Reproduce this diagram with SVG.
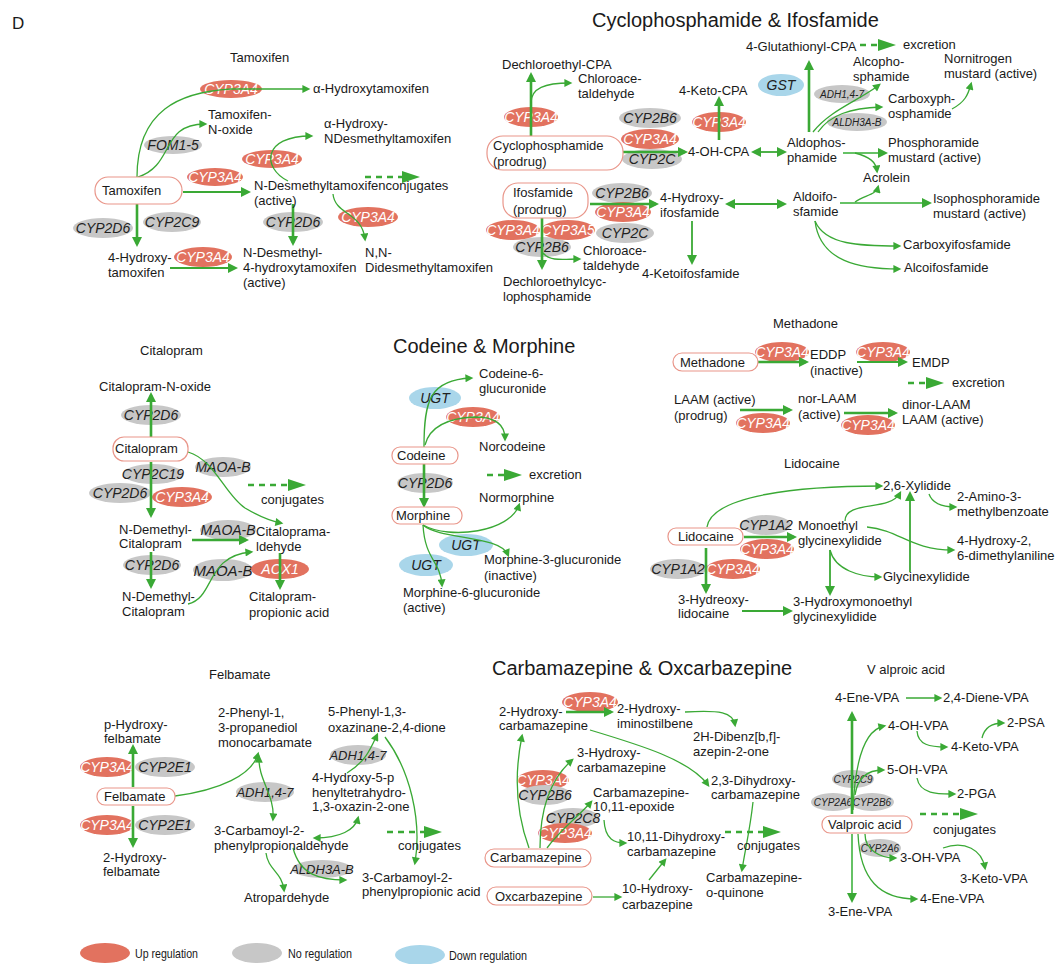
<svg xmlns="http://www.w3.org/2000/svg" width="1058" height="964" viewBox="0 0 1058 964">
<defs>
<style>
text{font-family:"Liberation Sans",Arial,sans-serif;font-size:13px;fill:#1a1a1a}
.ttl{font-size:20px}
.up{fill:#e2725f}
.no{fill:#c7c7c7}
.dn{fill:#a9d6ea}
.eu{font-style:italic;font-size:14px;fill:#ffffff;text-anchor:middle}
.en{font-style:italic;font-size:14px;fill:#222;text-anchor:middle}
.sm{font-size:10px}
.lg{font-size:13px}
.box{fill:#fff;stroke:#e9968a;stroke-width:1.2}
.c path{fill:none;stroke:#3aa935;stroke-width:1.3}
.c .k{stroke-width:2.6}
.c .m{stroke-width:1.8}
.c .l{stroke:#66c266;stroke-width:2}
.c .d{stroke-width:2.6;stroke-dasharray:6 5}
.c path{marker-end:url(#a)}
.c .k,.c .m,.c .l{marker-end:url(#A)}
.c .d{marker-end:url(#B)}
.c .b{marker-start:url(#a)}
.c .bm{marker-start:url(#A)}
</style>
<marker id="a" viewBox="0 0 10 10" refX="7" refY="5" markerWidth="9" markerHeight="8" markerUnits="userSpaceOnUse" orient="auto-start-reverse"><path d="M0,0 L10,5 L0,10 z" fill="#3aa935"/></marker>
<marker id="A" viewBox="0 0 10 10" refX="7" refY="5" markerWidth="11" markerHeight="10" markerUnits="userSpaceOnUse" orient="auto-start-reverse"><path d="M0,0 L10,5 L0,10 z" fill="#3aa935"/></marker>
<marker id="B" viewBox="0 0 18 12" refX="2" refY="6" markerWidth="18" markerHeight="12" markerUnits="userSpaceOnUse" orient="auto"><path d="M0,0 L18,6 L0,12 z" fill="#3aa935"/></marker>
</defs>
<rect width="1058" height="964" fill="#fff"/>
<text x="12" y="29" style="font-size:17px">D</text>

<!-- ================= ENZYMES ================= -->
<g id="enzymes">
<!-- Tamoxifen -->
<g id="tam-e1"><ellipse class="up" cx="231" cy="89" rx="31" ry="9"/><text class="eu" x="231" y="94">CYP3A4</text></g>
<g id="tam-e2"><ellipse class="no" cx="173" cy="145" rx="29" ry="9"/><text class="en" x="173" y="150">FOM1-5</text></g>
<g id="tam-e3"><ellipse class="up" cx="272" cy="159" rx="30" ry="9"/><text class="eu" x="272" y="164">CYP3A4</text></g>
<g id="tam-e4"><ellipse class="up" cx="215" cy="177" rx="28" ry="9"/><text class="eu" x="215" y="182">CYP3A4</text></g>
<g id="tam-e5"><ellipse class="no" cx="293" cy="222" rx="30" ry="10"/><text class="en" x="293" y="227">CYP2D6</text></g>
<g id="tam-e6"><ellipse class="up" cx="368" cy="217" rx="30" ry="10"/><text class="eu" x="368" y="222">CYP3A4</text></g>
<g id="tam-e7"><ellipse class="no" cx="103" cy="228" rx="30" ry="10"/><text class="en" x="103" y="233">CYP2D6</text></g>
<g id="tam-e8"><ellipse class="no" cx="172" cy="222" rx="29" ry="10"/><text class="en" x="172" y="227">CYP2C9</text></g>
<g id="tam-e9"><ellipse class="up" cx="203" cy="257" rx="29" ry="10"/><text class="eu" x="203" y="262">CYP3A4</text></g>
<!-- Cyclophosphamide -->
<g id="cpa-e1"><ellipse class="up" cx="531" cy="117" rx="27" ry="10"/><text class="eu" x="531" y="122">CYP3A4</text></g>
<g id="cpa-e2"><ellipse class="no" cx="650" cy="118" rx="31" ry="10"/><text class="en" x="650" y="123">CYP2B6</text></g>
<g id="cpa-e4"><ellipse class="no" cx="652" cy="159" rx="30" ry="10"/><text class="en" x="652" y="164">CYP2C</text></g>
<g id="cpa-e3"><ellipse class="up" cx="650" cy="139" rx="29" ry="10"/><text class="eu" x="650" y="144">CYP3A4</text></g>
<g id="cpa-e5"><ellipse class="up" cx="719" cy="122" rx="27" ry="10"/><text class="eu" x="719" y="127">CYP3A4</text></g>
<g id="cpa-e6"><ellipse class="dn" cx="781" cy="85" rx="23" ry="11"/><text class="en" x="781" y="90">GST</text></g>
<g id="cpa-e7"><ellipse class="no" cx="842" cy="94" rx="28" ry="9"/><text class="en sm" x="842" y="98">ADH1,4-7</text></g>
<g id="cpa-e8"><ellipse class="no" cx="857" cy="122" rx="30" ry="9"/><text class="en sm" x="857" y="126">ALDH3A-B</text></g>
<g id="cpa-e9"><ellipse class="no" cx="622" cy="193" rx="30" ry="10"/><text class="en" x="622" y="198">CYP2B6</text></g>
<g id="cpa-e11"><ellipse class="no" cx="625" cy="233" rx="29" ry="10"/><text class="en" x="625" y="238">CYP2C</text></g>
<g id="cpa-e10"><ellipse class="up" cx="623" cy="212" rx="28" ry="10"/><text class="eu" x="623" y="217">CYP3A4</text></g>
<g id="cpa-e14"><ellipse class="no" cx="542" cy="247" rx="29" ry="10"/><text class="en" x="542" y="252">CYP2B6</text></g>
<g id="cpa-e12"><ellipse class="up" cx="513" cy="230" rx="27" ry="10"/><text class="eu" x="513" y="235">CYP3A4</text></g>
<g id="cpa-e13"><ellipse class="up" cx="568" cy="230" rx="27" ry="10"/><text class="eu" x="568" y="235">CYP3A5</text></g>
<!-- Citalopram -->
<g id="cit-e1"><ellipse class="no" cx="151" cy="415" rx="30" ry="10"/><text class="en" x="151" y="420">CYP2D6</text></g>
<g id="cit-e2"><ellipse class="no" cx="153" cy="474" rx="30" ry="10"/><text class="en" x="153" y="479">CYP2C19</text></g>
<g id="cit-e3"><ellipse class="no" cx="120" cy="493" rx="31" ry="10"/><text class="en" x="120" y="498">CYP2D6</text></g>
<g id="cit-e4"><ellipse class="up" cx="182" cy="497" rx="30" ry="10"/><text class="eu" x="182" y="502">CYP3A4</text></g>
<g id="cit-e5"><ellipse class="no" cx="223" cy="467" rx="28" ry="10"/><text class="en" x="223" y="472">MAOA-B</text></g>
<g id="cit-e6"><ellipse class="no" cx="228" cy="530" rx="28" ry="10"/><text class="en" x="228" y="535">MAOA-B</text></g>
<g id="cit-e7"><ellipse class="no" cx="152" cy="565" rx="29" ry="10"/><text class="en" x="152" y="570">CYP2D6</text></g>
<g id="cit-e8"><ellipse class="no" cx="223" cy="570" rx="30" ry="11"/><text class="en" x="223" y="576" style="font-size:15px">MAOA-B</text></g>
<g id="cit-e9"><ellipse class="up" cx="280" cy="569" rx="29" ry="10"/><text class="eu" x="280" y="574">AOX1</text></g>
<!-- Codeine -->
<g id="cod-e1"><ellipse class="dn" cx="435" cy="398" rx="26" ry="11"/><text class="en" x="435" y="403">UGT</text></g>
<g id="cod-e2"><ellipse class="up" cx="473" cy="417" rx="27" ry="10"/><text class="eu" x="473" y="422">CYP3A4</text></g>
<g id="cod-e3"><ellipse class="no" cx="425" cy="483" rx="28" ry="10"/><text class="en" x="425" y="488">CYP2D6</text></g>
<g id="cod-e4"><ellipse class="dn" cx="466" cy="545" rx="27" ry="11"/><text class="en" x="466" y="550">UGT</text></g>
<g id="cod-e5"><ellipse class="dn" cx="426" cy="565" rx="27" ry="11"/><text class="en" x="426" y="570">UGT</text></g>
<!-- Methadone -->
<g id="met-e1"><ellipse class="up" cx="782" cy="352" rx="27" ry="10"/><text class="eu" x="782" y="357">CYP3A4</text></g>
<g id="met-e2"><ellipse class="up" cx="883" cy="352" rx="27" ry="10"/><text class="eu" x="883" y="357">CYP3A4</text></g>
<g id="met-e3"><ellipse class="up" cx="763" cy="423" rx="27" ry="10"/><text class="eu" x="763" y="428">CYP3A4</text></g>
<g id="met-e4"><ellipse class="up" cx="868" cy="425" rx="27" ry="10"/><text class="eu" x="868" y="430">CYP3A4</text></g>
<!-- Lidocaine -->
<g id="lid-e1"><ellipse class="no" cx="766" cy="525" rx="25" ry="10"/><text class="en" x="766" y="530">CYP1A2</text></g>
<g id="lid-e2"><ellipse class="up" cx="767" cy="549" rx="27" ry="10"/><text class="eu" x="767" y="554">CYP3A4</text></g>
<g id="lid-e3"><ellipse class="no" cx="678" cy="569" rx="28" ry="10"/><text class="en" x="678" y="574">CYP1A2</text></g>
<g id="lid-e4"><ellipse class="up" cx="733" cy="569" rx="27" ry="10"/><text class="eu" x="733" y="574">CYP3A4</text></g>
<!-- Felbamate -->
<g id="fel-e1"><ellipse class="up" cx="107" cy="767" rx="27" ry="10"/><text class="eu" x="107" y="772">CYP3A4</text></g>
<g id="fel-e2"><ellipse class="no" cx="165" cy="767" rx="30" ry="10"/><text class="en" x="165" y="772">CYP2E1</text></g>
<g id="fel-e3"><ellipse class="no" cx="265" cy="792" rx="29" ry="10"/><text class="en" x="265" y="797" style="font-size:13px">ADH1,4-7</text></g>
<g id="fel-e4"><ellipse class="no" cx="358" cy="755" rx="28" ry="10"/><text class="en" x="358" y="760" style="font-size:13px">ADH1,4-7</text></g>
<g id="fel-e5"><ellipse class="no" cx="322" cy="869" rx="30" ry="9"/><text class="en" x="322" y="874" style="font-size:13px">ALDH3A-B</text></g>
<g id="fel-e6"><ellipse class="up" cx="107" cy="825" rx="27" ry="10"/><text class="eu" x="107" y="830">CYP3A4</text></g>
<g id="fel-e7"><ellipse class="no" cx="165" cy="825" rx="30" ry="10"/><text class="en" x="165" y="830">CYP2E1</text></g>
<!-- Carbamazepine -->
<g id="cbz-e1"><ellipse class="up" cx="590" cy="702" rx="28" ry="10"/><text class="eu" x="590" y="707">CYP3A4</text></g>
<g id="cbz-e2"><ellipse class="up" cx="543" cy="780" rx="26" ry="10"/><text class="eu" x="543" y="785">CYP3A4</text></g>
<g id="cbz-e3"><ellipse class="no" cx="545" cy="795" rx="26" ry="10"/><text class="en" x="545" y="800">CYP2B6</text></g>
<g id="cbz-e4"><ellipse class="no" cx="573" cy="818" rx="26" ry="10"/><text class="en" x="573" y="823">CYP2C8</text></g>
<g id="cbz-e5"><ellipse class="up" cx="565" cy="833" rx="27" ry="10"/><text class="eu" x="565" y="838">CYP3A4</text></g>
<!-- Valproic acid -->
<g id="vpa-e1"><ellipse class="no" cx="853" cy="779" rx="21" ry="9"/><text class="en sm" x="853" y="783">CYP2C9</text></g>
<g id="vpa-e2"><ellipse class="no" cx="833" cy="802" rx="22" ry="9"/><text class="en sm" x="833" y="806">CYP2A6</text></g>
<g id="vpa-e3"><ellipse class="no" cx="872" cy="802" rx="22" ry="9"/><text class="en sm" x="872" y="806">CYP2B6</text></g>
<g id="vpa-e4"><ellipse class="no" cx="880" cy="848" rx="21" ry="9"/><text class="en sm" x="880" y="852">CYP2A6</text></g>
</g>

<!-- ================= CONNECTORS ================= -->
<g id="connectors" class="c">
<!-- Tamoxifen -->
<path d="M137,177 C137,110 180,92 231,89 L308,89"/>
<path d="M138,177 C175,165 160,124 205,124"/>
<path class="m" d="M183,192 L248,192"/>
<path d="M288,181 C262,168 262,136 311,136"/>
<path class="k" d="M293,204 L293,243"/>
<path d="M333,194 C335,215 362,212 365,239"/>
<path class="k" d="M137,204 L137,244"/>
<path class="m" d="M170,268 L235,268"/>
<path class="d" d="M365,177 L404,177"/>
<!-- Cyclophosphamide -->
<path class="k" d="M531,136 L531,75"/>
<path d="M531,103 C531,88 545,83 570,83"/>
<path class="k" d="M623,152 L685,152"/>
<path class="k" d="M719,140 L719,99"/>
<path class="m bm" d="M754,152 L784,152"/>
<path class="k" d="M809,132 L809,63"/>
<path class="d" d="M860,45 L880,45"/>
<path d="M813,132 C830,110 860,100 879,85"/>
<path d="M818,132 C830,115 850,108 881,107"/>
<path d="M952,109 C965,102 968,95 971,84"/>
<path class="l" d="M843,153 L885,153"/>
<path d="M855,153 C870,157 876,162 877,171"/>
<path class="m bm" d="M728,204 L784,204"/>
<path class="l" d="M840,203 L929,203"/>
<path d="M855,202 C865,195 876,195 878,187"/>
<path d="M815,221 C825,245 860,246 899,246"/>
<path d="M815,221 C820,262 860,269 899,269"/>
<path class="k" d="M590,204 L656,204"/>
<path class="m" d="M692,221 L692,262"/>
<path class="k" d="M542,218 L542,267"/>
<path d="M543,253 C550,262 565,259 579,259"/>
<!-- Citalopram -->
<path class="k" d="M151,437 L151,395"/>
<path class="k" d="M151,462 L151,515"/>
<path d="M188,452 C215,460 225,495 245,508 C260,517 270,521 281,523"/>
<path class="d" d="M248,485 L290,485"/>
<path class="k" d="M192,540 L246,540"/>
<path class="k" d="M151,552 L151,586"/>
<path d="M188,604 C215,598 205,556 251,552"/>
<path class="k" d="M280,553 L280,587"/>
<!-- Codeine -->
<path d="M424,447 C424,400 430,380 471,378"/>
<path d="M425,445 C430,425 450,418 475,417 C495,417 505,425 505,439"/>
<path class="k" d="M424,464 L424,505"/>
<path class="d" d="M487,475 L506,475"/>
<path d="M423,525 C450,540 510,532 519,505"/>
<path d="M423,525 C440,540 500,535 508,555"/>
<path d="M423,525 C425,560 440,560 442,585"/>
<!-- Methadone -->
<path class="k" d="M758,362 L806,362"/>
<path class="m" d="M857,362 L905,362"/>
<path class="d" d="M908,383 L928,383"/>
<path class="k" d="M740,410 L790,410"/>
<path class="k" d="M844,413 L895,413"/>
<!-- Lidocaine -->
<path d="M707,527 C712,495 800,486 881,486"/>
<path class="k" d="M744,537 L794,537"/>
<path d="M845,521 C845,500 890,512 900,493"/>
<path class="m" d="M910,572 L910,494"/>
<path d="M929,494 C933,505 945,507 955,507"/>
<path d="M867,527 C900,530 910,550 953,550"/>
<path d="M830,550 C835,570 860,577 880,577"/>
<path class="m" d="M830,550 L830,593"/>
<path class="k" d="M706,548 L706,591"/>
<path class="m" d="M742,611 L790,611"/>
<!-- Felbamate -->
<path class="k" d="M133,787 L133,747"/>
<path d="M175,796 C220,790 252,775 258,754"/>
<path class="b" d="M259,757 C258,780 275,795 273,819"/>
<path d="M347,773 C365,762 370,750 377,735"/>
<path class="b" d="M315,838 C340,838 355,830 358,818"/>
<path d="M385,737 C410,770 422,820 415,863"/>
<path class="d" d="M387,832 L426,832"/>
<path d="M293,848 C300,875 320,880 345,880"/>
<path d="M266,853 C268,870 282,872 284,890"/>
<path class="k" d="M133,806 L133,845"/>
<!-- Carbamazepine -->
<path class="k" d="M566,712 L611,712"/>
<path d="M685,712 C720,710 733,712 735,725"/>
<path d="M590,730 C640,745 690,760 708,785"/>
<path d="M529,848 C515,810 515,770 522,736"/>
<path d="M540,848 C540,800 555,775 572,760"/>
<path d="M547,848 C560,830 580,815 591,802"/>
<path d="M604,820 C605,840 615,843 625,843"/>
<path class="d" d="M725,832 L765,832"/>
<path d="M753,802 C750,830 745,850 742,870"/>
<path d="M593,897 L620,897"/>
<path d="M649,880 L665,860"/>
<!-- Valproic -->
<path d="M906,698 L940,698"/>
<path class="k" d="M852,814 L852,714"/>
<path d="M853,810 C855,760 865,730 884,726"/>
<path d="M917,731 C918,745 930,747 946,747"/>
<path d="M982,738 C985,725 995,723 1003,723"/>
<path d="M855,795 C858,775 870,770 883,770"/>
<path d="M917,778 C920,795 940,794 954,794"/>
<path class="d" d="M920,814 L962,814"/>
<path d="M865,834 C865,850 880,858 895,858"/>
<path d="M943,848 C965,840 982,850 985,868"/>
<path d="M858,834 C860,880 880,899 916,899"/>
<path class="l" d="M852,834 L852,900"/>
</g>

<!-- ================= NODES ================= -->
<g id="tamoxifen">
<text x="230" y="62">Tamoxifen</text>
<g id="n-tamoxifen"><rect class="box" x="95" y="177" width="87" height="27" rx="13"/><text x="102" y="195">Tamoxifen</text></g>
<g id="n-ahtam"><text x="313" y="93">α-Hydroxytamoxifen</text></g>
<g id="n-tamnox"><text x="208" y="119">Tamoxifen-<tspan x="208" dy="15">N-oxide</tspan></text></g>
<g id="n-ahndm"><text x="324" y="128">α-Hydroxy-<tspan x="324" dy="15">NDesmethyltamoxifen</tspan></text></g>
<g id="n-ndm"><text x="254" y="190">N-Desmethyltamoxifenconjugates<tspan x="254" dy="15">(active)</tspan></text></g>
<g id="n-nndm"><text x="365" y="257">N,N-<tspan x="365" dy="15">Didesmethyltamoxifen</tspan></text></g>
<g id="n-ndm4oh"><text x="243" y="257">N-Desmethyl-<tspan x="243" dy="15">4-hydroxytamoxifen</tspan><tspan x="243" dy="15">(active)</tspan></text></g>
<g id="n-4ohtam"><text x="108" y="262">4-Hydroxy-<tspan x="108" dy="15">tamoxifen</tspan></text></g>
</g>

<g id="cyclophosphamide">
<text class="ttl" x="592" y="27">Cyclophosphamide &amp; Ifosfamide</text>
<g id="n-dcpa"><text x="502" y="69">Dechloroethyl-CPA</text></g>
<g id="n-chl1"><text x="578" y="83">Chloroace-<tspan x="578" dy="15">taldehyde</tspan></text></g>
<g id="n-cpa"><rect class="box" x="487" y="136" width="136" height="34" rx="16"/><text x="493" y="150">Cyclophosphamide<tspan x="493" dy="16">(prodrug)</tspan></text></g>
<g id="n-4ohcpa"><text x="688" y="156">4-OH-CPA</text></g>
<g id="n-4ketocpa"><text x="679" y="95">4-Keto-CPA</text></g>
<g id="n-4gcpa"><text x="746" y="51">4-Glutathionyl-CPA</text></g>
<g id="n-excr1"><text x="903" y="49">excretion</text></g>
<g id="n-alcoph"><text x="853" y="66">Alcopho-<tspan x="853" dy="15">sphamide</tspan></text></g>
<g id="n-nornit"><text x="944" y="63">Nornitrogen<tspan x="944" dy="15">mustard (active)</tspan></text></g>
<g id="n-carboxph"><text x="888" y="103">Carboxyph-<tspan x="888" dy="15">osphamide</tspan></text></g>
<g id="n-aldoph"><text x="787" y="147">Aldophos-<tspan x="787" dy="15">phamide</tspan></text></g>
<g id="n-phosmust"><text x="888" y="147">Phosphoramide<tspan x="888" dy="15">mustard (active)</tspan></text></g>
<g id="n-acrolein"><text x="863" y="182">Acrolein</text></g>
<g id="n-aldoifo"><text x="793" y="201">Aldoifo-<tspan x="793" dy="15">sfamide</tspan></text></g>
<g id="n-isophos"><text x="933" y="203">Isophosphoramide<tspan x="933" dy="15">mustard (active)</tspan></text></g>
<g id="n-carbifo"><text x="903" y="249">Carboxyifosfamide</text></g>
<g id="n-alcoifo"><text x="904" y="272">Alcoifosfamide</text></g>
<g id="n-ifo"><rect class="box" x="503" y="183" width="85" height="35" rx="15"/><text x="513" y="197">Ifosfamide<tspan x="513" dy="17">(prodrug)</tspan></text></g>
<g id="n-4ohifo"><text x="660" y="202">4-Hydroxy-<tspan x="660" dy="15">ifosfamide</tspan></text></g>
<g id="n-4ketoifo"><text x="642" y="278">4-Ketoifosfamide</text></g>
<g id="n-chl2"><text x="583" y="255">Chloroace-<tspan x="583" dy="15">taldehyde</tspan></text></g>
<g id="n-dccpa"><text x="503" y="286">Dechloroethylcyc-<tspan x="503" dy="15">lophosphamide</tspan></text></g>
</g>

<g id="citalopram">
<text x="140" y="355">Citalopram</text>
<g id="n-citnox"><text x="99" y="391">Citalopram-N-oxide</text></g>
<g id="n-cit"><rect class="box" x="113" y="437" width="75" height="24" rx="11"/><text x="115" y="453">Citalopram</text></g>
<g id="n-conj1"><text x="261" y="504">conjugates</text></g>
<g id="n-ndcit1"><text x="119" y="534">N-Demethyl-<tspan x="119" dy="14">Citalopram</tspan></text></g>
<g id="n-citald"><text x="256" y="536">Citaloprama-<tspan x="256" dy="15">ldehyde</tspan></text></g>
<g id="n-ndcit2"><text x="122" y="601">N-Demethyl-<tspan x="122" dy="15">Citalopram</tspan></text></g>
<g id="n-citprop"><text x="249" y="601">Citalopram-<tspan x="249" dy="16">propionic acid</tspan></text></g>
</g>

<g id="codeine">
<text class="ttl" x="393" y="353">Codeine &amp; Morphine</text>
<g id="n-c6g"><text x="479" y="378">Codeine-6-<tspan x="479" dy="15">glucuronide</tspan></text></g>
<g id="n-norcod"><text x="479" y="451">Norcodeine</text></g>
<g id="n-cod"><rect class="box" x="392" y="447" width="66" height="17" rx="8"/><text x="397" y="460">Codeine</text></g>
<g id="n-excr2"><text x="529" y="479">excretion</text></g>
<g id="n-normor"><text x="479" y="502">Normorphine</text></g>
<g id="n-mor"><rect class="box" x="392" y="507" width="70" height="17" rx="8"/><text x="396" y="520">Morphine</text></g>
<g id="n-m3g"><text x="484" y="564">Morphine-3-glucuronide<tspan x="484" dy="16">(inactive)</tspan></text></g>
<g id="n-m6g"><text x="403" y="597">Morphine-6-glucuronide<tspan x="403" dy="15">(active)</tspan></text></g>
</g>

<g id="methadone">
<text x="773" y="328">Methadone</text>
<g id="n-meth"><rect class="box" x="673" y="353" width="85" height="18" rx="9"/><text x="680" y="367">Methadone</text></g>
<g id="n-eddp"><text x="810" y="359">EDDP<tspan x="810" dy="16">(inactive)</tspan></text></g>
<g id="n-emdp"><text x="912" y="367">EMDP</text></g>
<g id="n-excr3"><text x="952" y="387">excretion</text></g>
<g id="n-laam"><text x="674" y="404">LAAM (active)<tspan x="674" dy="16">(prodrug)</tspan></text></g>
<g id="n-norlaam"><text x="798" y="403">nor-LAAM<tspan x="798" dy="16">(active)</tspan></text></g>
<g id="n-dinor"><text x="902" y="409">dinor-LAAM<tspan x="902" dy="15">LAAM (active)</tspan></text></g>
</g>

<g id="lidocaine">
<text x="784" y="468">Lidocaine</text>
<g id="n-xyl"><text x="883" y="490">2,6-Xylidide</text></g>
<g id="n-lid"><rect class="box" x="668" y="528" width="75" height="17" rx="8"/><text x="678" y="541">Lidocaine</text></g>
<g id="n-megx"><text x="798" y="530">Monoethyl<tspan x="798" dy="15">glycinexylidide</tspan></text></g>
<g id="n-amino"><text x="957" y="501">2-Amino-3-<tspan x="957" dy="15">methylbenzoate</tspan></text></g>
<g id="n-4oh26"><text x="957" y="545">4-Hydroxy-2,<tspan x="957" dy="15">6-dimethylaniline</tspan></text></g>
<g id="n-gx"><text x="883" y="581">Glycinexylidide</text></g>
<g id="n-3ohmegx"><text x="793" y="606">3-Hydroxymonoethyl<tspan x="793" dy="15">glycinexylidide</tspan></text></g>
<g id="n-3ohlid"><text x="678" y="604">3-Hydreoxy-<tspan x="678" dy="14">lidocaine</tspan></text></g>
</g>

<g id="felbamate">
<text x="209" y="679">Felbamate</text>
<g id="n-phf"><text x="104" y="729">p-Hydroxy-<tspan x="104" dy="14">felbamate</tspan></text></g>
<g id="n-felb"><rect class="box" x="97" y="788" width="78" height="17" rx="8"/><text x="104" y="801">Felbamate</text></g>
<g id="n-ppd"><text x="218" y="717">2-Phenyl-1,<tspan x="218" dy="15">3-propanediol</tspan><tspan x="218" dy="15">monocarbamate</tspan></text></g>
<g id="n-oxd"><text x="328" y="716">5-Phenyl-1,3-<tspan x="328" dy="16">oxazinane-2,4-dione</tspan></text></g>
<g id="n-hpto"><text x="312" y="782">4-Hydroxy-5-p<tspan x="312" dy="15">henyltetrahydro-</tspan><tspan x="312" dy="14">1,3-oxazin-2-one</tspan></text></g>
<g id="n-cppa"><text x="214" y="835">3-Carbamoyl-2-<tspan x="214" dy="15">phenylpropionaldehyde</tspan></text></g>
<g id="n-conj2"><text x="398" y="850">conjugates</text></g>
<g id="n-cppacid"><text x="362" y="882">3-Carbamoyl-2-<tspan x="362" dy="14">phenylpropionic acid</tspan></text></g>
<g id="n-atro"><text x="244" y="902">Atropardehyde</text></g>
<g id="n-2hf"><text x="103" y="862">2-Hydroxy-<tspan x="103" dy="14">felbamate</tspan></text></g>
</g>

<g id="carbamazepine">
<text class="ttl" x="492" y="675">Carbamazepine &amp; Oxcarbazepine</text>
<g id="n-2ohcbz"><text x="499" y="716">2-Hydroxy-<tspan x="499" dy="14">carbamazepine</tspan></text></g>
<g id="n-2ohimi"><text x="617" y="713">2-Hydroxy-<tspan x="617" dy="15">iminostilbene</tspan></text></g>
<g id="n-dibenz"><text x="693" y="741">2H-Dibenz[b,f]-<tspan x="693" dy="15">azepin-2-one</tspan></text></g>
<g id="n-3ohcbz"><text x="577" y="757">3-Hydroxy-<tspan x="577" dy="15">carbamazepine</tspan></text></g>
<g id="n-23dh"><text x="711" y="785">2,3-Dihydroxy-<tspan x="711" dy="14">carbamazepine</tspan></text></g>
<g id="n-epox"><text x="593" y="797">Carbamazepine-<tspan x="593" dy="14">10,11-epoxide</tspan></text></g>
<g id="n-1011dh"><text x="627" y="841">10,11-Dihydroxy-<tspan x="627" dy="15">carbamazepine</tspan></text></g>
<g id="n-conj3"><text x="737" y="850">conjugates</text></g>
<g id="n-cbz"><rect class="box" x="485" y="849" width="106" height="18" rx="9"/><text x="490" y="862">Carbamazepine</text></g>
<g id="n-quin"><text x="706" y="882">Carbamazepine-<tspan x="706" dy="15">o-quinone</tspan></text></g>
<g id="n-oxc"><rect class="box" x="487" y="887" width="105" height="18" rx="9"/><text x="495" y="901">Oxcarbazepine</text></g>
<g id="n-10oh"><text x="622" y="893">10-Hydroxy-<tspan x="622" dy="16">carbazepine</tspan></text></g>
</g>

<g id="valproic">
<text x="867" y="674">V alproic acid</text>
<g id="n-4ene1"><text x="835" y="702">4-Ene-VPA</text></g>
<g id="n-24diene"><text x="943" y="702">2,4-Diene-VPA</text></g>
<g id="n-4oh"><text x="888" y="730">4-OH-VPA</text></g>
<g id="n-4keto"><text x="951" y="751">4-Keto-VPA</text></g>
<g id="n-2psa"><text x="1007" y="727">2-PSA</text></g>
<g id="n-5oh"><text x="887" y="774">5-OH-VPA</text></g>
<g id="n-2pga"><text x="957" y="798">2-PGA</text></g>
<g id="n-vpa"><rect class="box" x="822" y="816" width="90" height="17" rx="8"/><text x="828" y="829">Valproic acid</text></g>
<g id="n-conj4"><text x="933" y="834">conjugates</text></g>
<g id="n-3oh"><text x="900" y="862">3-OH-VPA</text></g>
<g id="n-3keto"><text x="960" y="883">3-Keto-VPA</text></g>
<g id="n-4ene2"><text x="920" y="903">4-Ene-VPA</text></g>
<g id="n-3ene"><text x="828" y="916">3-Ene-VPA</text></g>
</g>

<g id="legend">
<g id="lg-up"><ellipse class="up" cx="105" cy="953" rx="25" ry="10"/><text class="lg" x="135" y="958" textLength="63" lengthAdjust="spacingAndGlyphs">Up regulation</text></g>
<g id="lg-no"><ellipse class="no" cx="257" cy="953" rx="25" ry="10"/><text class="lg" x="288" y="958" textLength="64" lengthAdjust="spacingAndGlyphs">No regulation</text></g>
<g id="lg-dn"><ellipse class="dn" cx="420" cy="955" rx="25" ry="10"/><text class="lg" x="449" y="960" textLength="78" lengthAdjust="spacingAndGlyphs">Down regulation</text></g>
</g>
</svg>
